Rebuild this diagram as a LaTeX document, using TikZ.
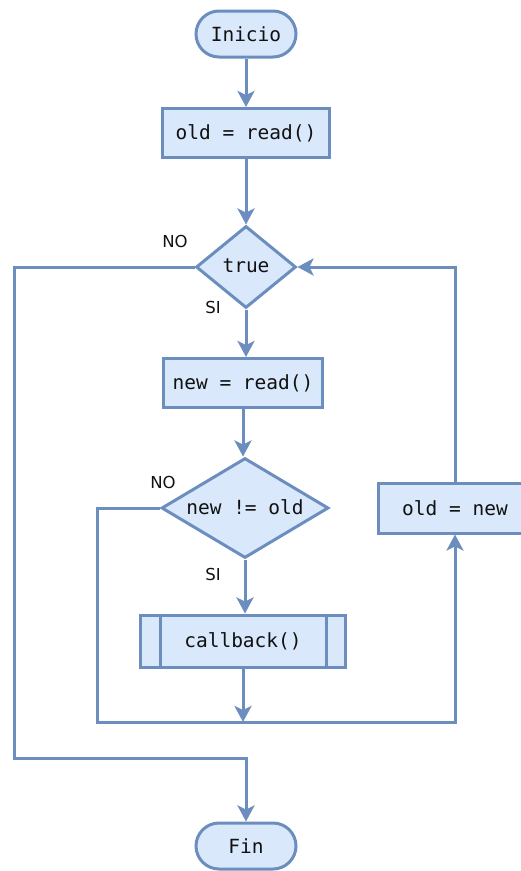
\documentclass[tikz,border=0pt]{standalone}
\usepackage{fontspec}
\setmainfont{DejaVu Sans}
\newfontfamily\codefont{DejaVu Sans Mono}
\usetikzlibrary{shapes.geometric,shapes.misc,arrows.meta}
\definecolor{edge}{HTML}{6C8EBF}
\definecolor{fillc}{HTML}{DAE8FC}
\definecolor{txt}{HTML}{111111}
\tikzset{
  codetext/.style={text=txt, font=\codefont\fontsize{19.5}{22}\selectfont},
  base/.style={draw=edge, fill=fillc, line width=3pt, inner sep=0pt, codetext},
  term/.style={base, rounded rectangle, minimum width=100pt, minimum height=46pt},
  proc/.style={base, rectangle, minimum height=49pt},
  dec/.style={base, diamond},
  conn/.style={draw=edge, line width=3pt},
  arr/.style={conn, -{Stealth[length=16pt,width=17pt,inset=4pt]}},
  lab/.style={text=txt, font=\fontsize{16.5}{18}\selectfont, inner sep=0pt}
}
\begin{document}
\begin{tikzpicture}[x=1pt,y=-1pt]
\useasboundingbox (0,0) rectangle (520,871);
\node[term] (ini) at (246,34) {Inicio};
\node[proc, minimum width=167pt] (r1) at (246,133) {old = read()};
\node[dec, minimum width=100pt, minimum height=82pt] (d1) at (246,267) {};
\node[codetext] (d1t) at (246,266) {true};
\node[proc, minimum width=159pt] (r2) at (243,383) {new = read()};
\node[dec, minimum width=167pt, minimum height=100pt] (d2) at (245,508) {};
\node[codetext] (d2t) at (245,507) {new != old};
\node[proc, minimum width=154pt, minimum height=50pt] (on) at (455,508) {old = new};
\node[proc, minimum width=205pt, minimum height=52pt] (cb) at (243,641) {callback()};
\draw[conn] ([xshift=21pt]cb.north west) -- ([xshift=21pt]cb.south west);
\draw[conn] ([xshift=-21pt]cb.north east) -- ([xshift=-21pt]cb.south east);
\node[term] (fin) at (246,846) {Fin};

\coordinate (c1) at (14,758);
\coordinate (c2) at (97,722);

\node[lab] (no1) at (175,241) {NO};
\node[lab] (si1) at (213,307) {SI};
\node[lab] (no2) at (163,482) {NO};
\node[lab] (si2) at (213,574) {SI};

\draw[arr] (ini) -- (r1);
\draw[arr] (r1) -- (d1);
\draw[arr] (d1.south) -- (d1.south |- r2.north);
\draw[arr] (r2.south) -- (r2.south |- d2.north);
\draw[arr] (d2.south) -- (d2.south |- cb.north);
\draw[arr] (cb.south) -- (cb.south |- c2);
\draw[arr] (d2.west) -| (c2) -| (on.south);
\draw[arr] (on.north) |- (d1.east);
\draw[arr] (d1.west) -| (c1) -| (fin.north);
\end{tikzpicture}
\end{document}
